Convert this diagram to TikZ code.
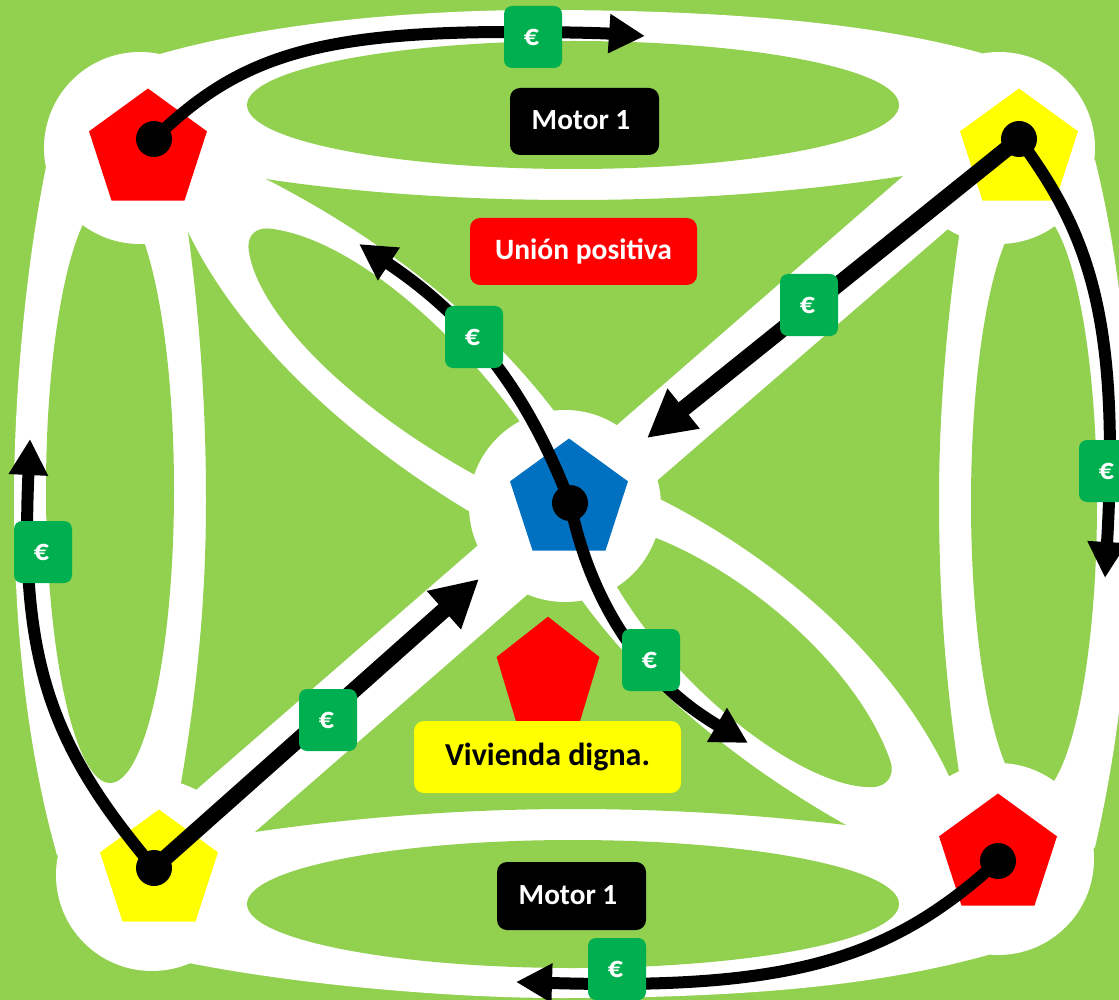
\documentclass[tikz,border=0pt]{standalone}
\usepackage{fontspec}
\setmainfont{Carlito}
\usetikzlibrary{arrows.meta,shapes.geometric}
\definecolor{bggreen}{HTML}{92D050}
\definecolor{eurogreen}{HTML}{00B050}
\definecolor{pentblue}{HTML}{0070C0}
\definecolor{pureyellow}{HTML}{FFFF00}
\definecolor{purered}{HTML}{FF0000}
\tikzset{
  penta/.style={regular polygon,regular polygon sides=5,minimum size=124pt,inner sep=0pt,draw=none,fill=#1},
  hub/.style={circle,fill=white,draw=none,minimum size=192pt,inner sep=0pt},
  dotnode/.style={circle,fill=black,draw=none,minimum size=36pt,inner sep=0pt},
  eurobox/.style={rectangle,rounded corners=8pt,fill=eurogreen,draw=none,minimum width=58pt,minimum height=62pt,inner sep=0pt,text=white,font=\fontsize{30}{32}\selectfont\bfseries},
  tag/.style={rectangle,rounded corners=10pt,draw=none,inner sep=0pt},
  flowthin/.style={line width=12pt,-{Triangle[length=36pt,width=37pt]}},
  flowthick/.style={line width=16pt,-{Triangle[length=47pt,width=48pt]}},
  field/.style={fill=bggreen,draw=none}
}
\newcommand{\eurotxt}{\hspace{-3pt}€}
\begin{document}
\begin{tikzpicture}[x=1pt,y=-1pt]
\useasboundingbox (0,0) rectangle (1119,1000);
\clip (0,0) rectangle (1119,1000);
\fill[bggreen] (0,0) rectangle (1119,1000);
% white barrel
\fill[white] (160,54) .. controls (280,20) and (430,10) .. (540,10)
  .. controls (720,10) and (870,22) .. (981,53)
  -- (1095,160) .. controls (1120,260) and (1132,380) .. (1132,500)
  .. controls (1132,620) and (1120,740) .. (1095,847)
  -- (988,955) .. controls (880,985) and (750,998) .. (560,998)
  .. controls (450,998) and (300,985) .. (189,963)
  -- (57,855) .. controls (30,760) and (14,640) .. (14,500)
  .. controls (14,400) and (25,270) .. (46,167) -- cycle;
% green fields
\fill[field] (573,105) ellipse [x radius=326,y radius=64];
\fill[field] (573,904) ellipse [x radius=326,y radius=64];
\fill[field] (110,490) ellipse [x radius=64,y radius=293];
\fill[field] (1034,503) ellipse [x radius=63,y radius=293];
% upper triangle
\fill[field] (266,179) .. controls (350,192) and (460,200) .. (572,200)
  .. controls (690,200) and (800,192) .. (903,176)
  -- (580,457) -- (570,440) -- (555,412)
  .. controls (485,320) and (385,240) .. (266,179) -- cycle;
% left triangle
\fill[field] (188,232) .. controls (200,320) and (206,410) .. (206,500)
  .. controls (206,600) and (197,690) .. (181,783)
  -- (185,800) -- (197,789) -- (477,546) -- (490,535) -- (490,525) -- (470,512)
  .. controls (350,440) and (240,340) .. (188,232) -- cycle;
% right triangle
\fill[field] (662,500) .. controls (770,555) and (890,650) .. (949,776)
  -- (952,790) -- (959,772)
  .. controls (945,680) and (939,590) .. (939,500)
  .. controls (939,410) and (947,320) .. (959,236)
  -- (955,225) -- (947,230) -- (658,480) -- (640,497) -- cycle;
% bottom triangle
\fill[field] (255,832) .. controls (350,818) and (460,809) .. (572,809)
  .. controls (670,809) and (760,815) .. (846,825)
  .. controls (730,760) and (640,680) .. (583,602)
  -- (570,585) -- (535,588) -- (527,595) -- cycle;
% diagonal lenses
\fill[field] (520,422) .. controls (450,325) and (350,240) .. (273,229)
  .. controls (255,226) and (246,236) .. (249,252)
  .. controls (258,310) and (340,400) .. (475,475) -- cycle;
\fill[field] (656,538) .. controls (750,575) and (860,670) .. (891,763)
  .. controls (895,780) and (882,789) .. (867,787)
  .. controls (805,785) and (685,700) .. (617,587) -- cycle;
% hubs
\node[hub] (hubUL) at (140,148) {};
\node[hub] (hubUR) at (999,148) {};
\node[hub] (hubLL) at (152,875) {};
\node[hub] (hubLR) at (998,859) {};
\node[hub] (hubC) at (565,506) {};
% pentagons
\node[penta=purered] (pUL) at (148,150.5) {};
\node[penta=pureyellow] (pUR) at (1019,150.5) {};
\node[penta=pentblue] (pC) at (569,500.5) {};
\node[penta=pureyellow] (pLL) at (159,871.5) {};
\node[penta=purered] (pLR) at (998,855.5) {};
\node[penta=purered,minimum size=108pt,yscale=1.08,transform shape] (pM) at (548,675) {};
% dots
\node[dotnode] (dUL) at (154,139) {};
\node[dotnode] (dUR) at (1019,139) {};
\node[dotnode] (dC) at (570,503) {};
\node[dotnode] (dLL) at (154,868) {};
\node[dotnode] (dLR) at (998,861) {};
% arrow ends
\coordinate (tTop) at (645,36);
\coordinate (tUL) at (359,244);
\coordinate (tLR) at (748,743);
\coordinate (tCa) at (647,438);
\coordinate (tCb) at (479,579);
\coordinate (tRight) at (1105,578);
\coordinate (tLeft) at (30,439);
\coordinate (tBottom) at (516,982);
% arrows
\draw[flowthin] (dUL.center) .. controls (235,60) and (310,32) .. (510,32) .. controls (560,32) and (600,33) .. (tTop);
\draw[flowthin] (dC.center) .. controls (525,385) and (465,315) .. (tUL);
\draw[flowthin] (dC.center) .. controls (590,600) and (640,680) .. (tLR);
\draw[flowthick] (dUR.center) -- (tCa);
\draw[flowthick] (dLL.center) -- (tCb);
\draw[flowthin] (dUR.center) .. controls (1090,235) and (1120,320) .. (tRight);
\draw[flowthin] (dLL.center) .. controls (50,745) and (20,660) .. (tLeft);
\draw[flowthin] (dLR.center) .. controls (890,960) and (790,990) .. (tBottom);
% euro boxes
\node[eurobox] (e1) at (533,37) {\eurotxt};
\node[eurobox] (e2) at (474,337) {\eurotxt};
\node[eurobox] (e3) at (809,305) {\eurotxt};
\node[eurobox] (e4) at (1108,471) {\eurotxt};
\node[eurobox] (e5) at (43,552) {\eurotxt};
\node[eurobox] (e6) at (328,720) {\eurotxt};
\node[eurobox] (e7) at (651,660) {\eurotxt};
\node[eurobox] (e8) at (617,969) {\eurotxt};
% labels
\node[tag,fill=black,text=white,minimum width=149pt,minimum height=67pt,font=\fontsize{29.2}{32}\selectfont\bfseries] (m1) at (584.5,121.5) {\raisebox{2pt}{Motor 1\hspace{7pt}}};
\node[tag,fill=black,text=white,minimum width=149pt,minimum height=68pt,font=\fontsize{29.2}{32}\selectfont\bfseries] (m2) at (571.5,896) {\raisebox{2pt}{Motor 1\hspace{7pt}}};
\node[tag,fill=purered,text=white,minimum width=227pt,minimum height=67pt,font=\fontsize{29.5}{32}\selectfont\bfseries] (un) at (583.5,251.5) {\raisebox{2pt}{Unión positiva}};
\node[tag,fill=pureyellow,text=black,minimum width=267pt,minimum height=72pt,font=\fontsize{32}{34}\selectfont\bfseries] (vi) at (547.5,757) {\raisebox{2pt}{Vivienda digna.}};
\end{tikzpicture}
\end{document}
